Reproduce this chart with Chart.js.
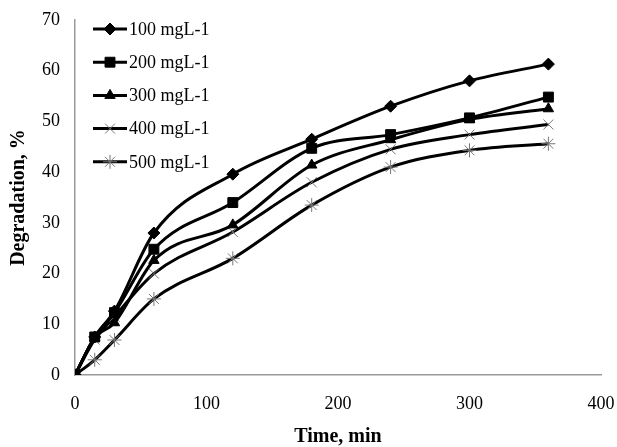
<!DOCTYPE html>
<html>
<head>
<meta charset="utf-8">
<script src="https://cdn.jsdelivr.net/npm/chart.js@4/dist/chart.umd.min.js"></script>
<style>
  html, body { margin: 0; padding: 0; background: #fff; }
  #wrap { width: 617px; height: 447px; }
</style>
</head>
<body>
<div id="wrap"><canvas id="chart" width="617" height="447"></canvas></div>
<script>
// ── Data ───────────────────────────────────────────────
var times = [0, 15, 30, 60, 120, 180, 240, 300, 360];
var labels = ['100 mgL-1', '200 mgL-1', '300 mgL-1', '400 mgL-1', '500 mgL-1'];
var c100 = [0, 7.5, 12.6, 28.0, 39.6, 46.5, 53.0, 58.0, 61.3];
var c200 = [0, 7.5, 12.3, 24.8, 34.0, 44.7, 47.4, 50.7, 54.8];
var c300 = [0, 7.3, 10.3, 22.6, 29.6, 41.4, 46.4, 50.4, 52.5];
var c400 = [0, 7.0, 11.5, 20.0, 28.2, 38.0, 44.5, 47.4, 49.4];
var c500 = [0, 3.0, 6.9, 15.0, 23.0, 33.5, 41.0, 44.3, 45.6];
var xTicks = [0, 100, 200, 300, 400];
var yTicks = [0, 10, 20, 30, 40, 50, 60, 70];

var series = [c100, c200, c300, c400, c500];
var markers = [
  { style: 'rectRot',  radius: 6, fill: '#000', stroke: '#000', width: 1 },
  { style: 'rect',     radius: 7, fill: '#000', stroke: '#000', width: 1 },
  { style: 'triangle', radius: 6, fill: '#000', stroke: '#000', width: 1 },
  { style: 'crossRot', radius: 7, fill: '#777', stroke: '#777', width: 1 },
  { style: 'star',     radius: 7, fill: '#777', stroke: '#777', width: 1 }
];
var SERIF = "'Liberation Serif', 'Times New Roman', serif";

var datasets = series.map(function (vals, i) {
  var m = markers[i];
  return {
    label: labels[i],
    data: vals.map(function (v, j) { return { x: times[j], y: v }; }),
    borderColor: '#000',
    borderWidth: 3,
    cubicInterpolationMode: 'monotone',
    fill: false,
    pointStyle: m.style,
    pointRadius: m.radius,
    pointBackgroundColor: m.fill,
    pointBorderColor: m.stroke,
    pointBorderWidth: m.width
  };
});

// ── Legend drawn inside the plot area ─────────────────
var insideLegend = {
  id: 'insideLegend',
  afterDraw: function (chart) {
    var ctx = chart.ctx;
    ctx.save();
    chart.data.datasets.forEach(function (ds, i) {
      var y = 29 + i * 33.2;
      ctx.strokeStyle = '#000';
      ctx.lineWidth = 3;
      ctx.beginPath();
      ctx.moveTo(93, y);
      ctx.lineTo(127, y);
      ctx.stroke();
      ctx.fillStyle = ds.pointBackgroundColor;
      ctx.strokeStyle = ds.pointBorderColor;
      ctx.lineWidth = ds.pointBorderWidth;
      Chart.helpers.drawPoint(ctx, { pointStyle: ds.pointStyle, radius: ds.pointRadius, rotation: 0, borderWidth: ds.pointBorderWidth }, 110, y);
      ctx.fillStyle = '#000';
      ctx.font = '18px ' + SERIF;
      ctx.textAlign = 'left';
      ctx.textBaseline = 'middle';
      ctx.fillText(ds.label, 129, y + 1);
    });
    ctx.restore();
  }
};

new Chart(document.getElementById('chart'), {
  type: 'line',
  data: { datasets: datasets },
  options: {
    responsive: false,
    animation: false,
    layout: { padding: { top: 20, right: 16, left: 9, bottom: 0 } },
    plugins: { legend: { display: false }, tooltip: { enabled: false } },
    scales: {
      x: {
        type: 'linear',
        min: 0, max: 400,
        afterFit: function (s) { s.height = 72; s.paddingLeft = 0; s.paddingRight = 0; },
        afterBuildTicks: function (s) { s.ticks = xTicks.map(function (v) { return { value: v }; }); },
        grid: { display: false, drawTicks: false },
        border: { display: true, color: '#9a9a9a', width: 1.5 },
        ticks: { color: '#000', padding: 18, maxRotation: 0, font: { family: SERIF, size: 18 } },
        title: { display: true, text: 'Time, min', color: '#000', padding: { top: 4, bottom: 0 }, font: { family: SERIF, size: 20, weight: 'bold', lineHeight: 1 } }
      },
      y: {
        min: 0, max: 70,
        afterFit: function (s) { s.width = 66; s.paddingTop = 0; s.paddingBottom = 0; },
        afterBuildTicks: function (s) { s.ticks = yTicks.map(function (v) { return { value: v }; }); },
        grid: { display: false, drawTicks: false },
        border: { display: true, color: '#9a9a9a', width: 1.5 },
        ticks: { color: '#000', padding: 15, font: { family: SERIF, size: 18 } },
        title: { display: true, text: 'Degradation, %', color: '#000', padding: { top: 0, bottom: 0 }, font: { family: SERIF, size: 20, weight: 'bold', lineHeight: 1 } }
      }
    }
  },
  plugins: [insideLegend]
});
</script>
</body>
</html>
